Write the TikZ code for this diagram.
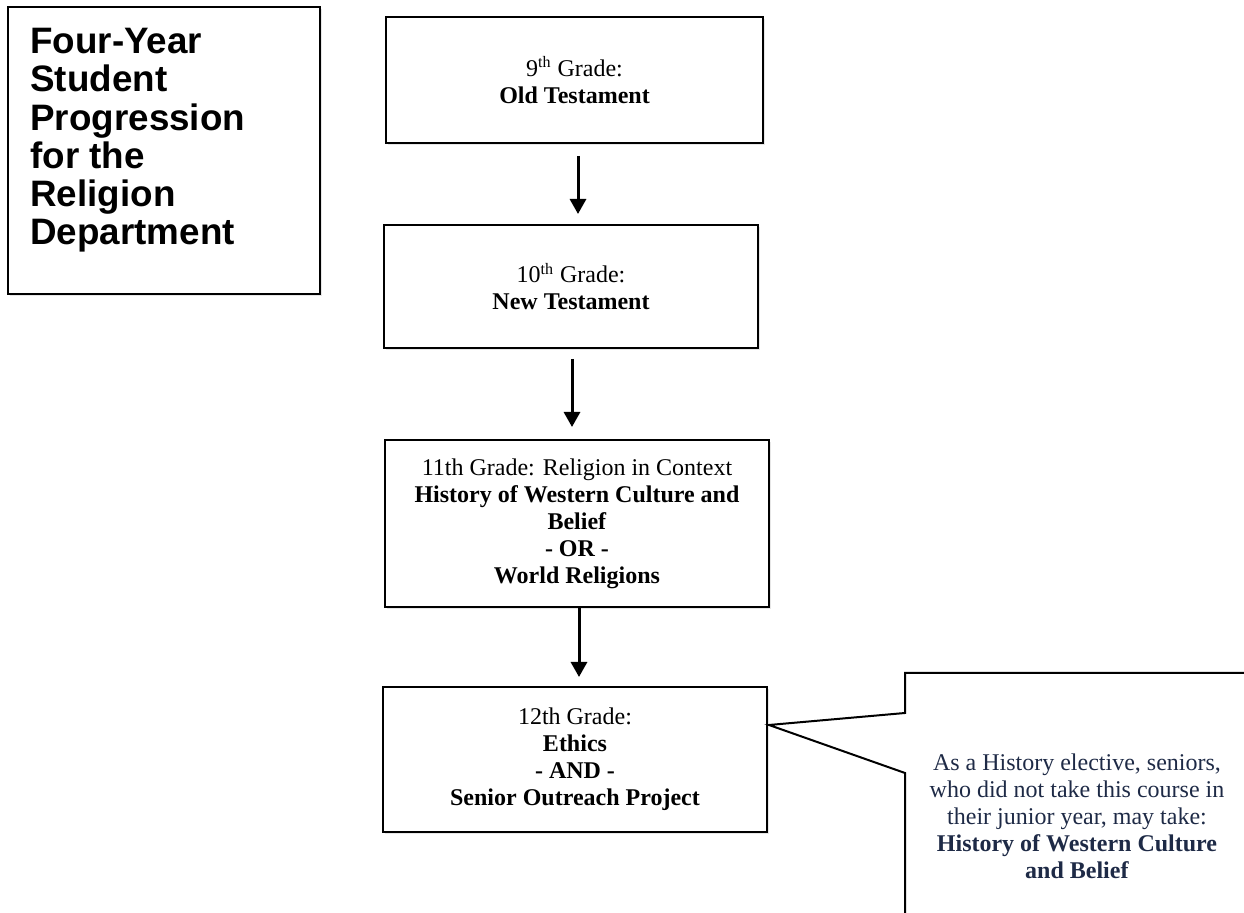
\documentclass[tikz,border=0pt]{standalone}
\usepackage{fontspec}
\setmainfont{Liberation Serif}
\newfontfamily\headfont{Liberation Sans}
\usepackage{tikz}
\usetikzlibrary{arrows.meta,shadows}
\definecolor{notenavy}{RGB}{30,42,70}

\begin{document}
\begin{tikzpicture}
  [x=0.5pt,y=-0.5pt,
   every node/.style={font=\fontsize{12}{13.5}\selectfont,align=center},
   box/.style={draw,line width=1pt,fill=white,drop shadow={shadow xshift=1pt,shadow yshift=-1pt,opacity=0.2}},
   arr/.style={line width=1.5pt,-{Triangle[width=8pt,length=7.5pt]}}]
  \useasboundingbox (0,0) rectangle (1244,913);
  \clip (0,0) rectangle (1244,913);

  \node[box,minimum width=156pt,minimum height=143.5pt] (head) at (164,150.5) {};
  \node[anchor=north west,align=left,inner sep=0pt,
        font=\headfont\bfseries\fontsize{18.4}{19.1}\selectfont] (headtext) at (30,28)
       {Four-Year\\Student\\Progression\\for the\\Religion\\Department};

  \node[box,minimum width=188.5pt,minimum height=63pt] (g9) at (574.5,80)
       {9\textsuperscript{th} Grade:\\\textbf{Old Testament}};
  \node[box,minimum width=187pt,minimum height=61.5pt] (g10) at (571,286.5)
       {10\textsuperscript{th} Grade:\\\textbf{New Testament}};
  \node[box,minimum width=192pt,minimum height=83.5pt] (g11) at (577,523.5)
       {11th Grade: Religion in Context\\\textbf{History of Western Culture and}\\\textbf{Belief}\\\textbf{- OR -}\\\textbf{World Religions}};
  \node[box,minimum width=192pt,minimum height=72.5pt] (g12) at (575,759.5)
       {12th Grade:\\\textbf{Ethics}\\\textbf{- AND -}\\\textbf{Senior Outreach Project}};

  \draw[arr,shorten <=6pt,shorten >=5pt] ([xshift=1.75pt]g9.south) -- ([xshift=1.75pt]g9.south |- g10.north);
  \draw[arr,shorten <=5pt,shorten >=6pt] ([xshift=0.5pt]g10.south) -- ([xshift=0.5pt]g10.south |- g11.north);
  \draw[arr,shorten >=4.5pt] ([xshift=1pt]g11.south) -- ([xshift=1pt]g11.south |- g12.north);

  % callout
  \coordinate (tip) at ([xshift=0.5pt,yshift=17.25pt]g12.east);
  \draw[line width=1pt,line join=miter] (905,930) -- (905,773) -- (tip) -- (905,713) -- (905,673) -- (1260,673);
  \node[text=notenavy] (note) at (1077,816)
       {As a History elective, seniors,\\who did not take this course in\\their junior year, may take:\\\textbf{History of Western Culture}\\\textbf{and Belief}};
\end{tikzpicture}
\end{document}
